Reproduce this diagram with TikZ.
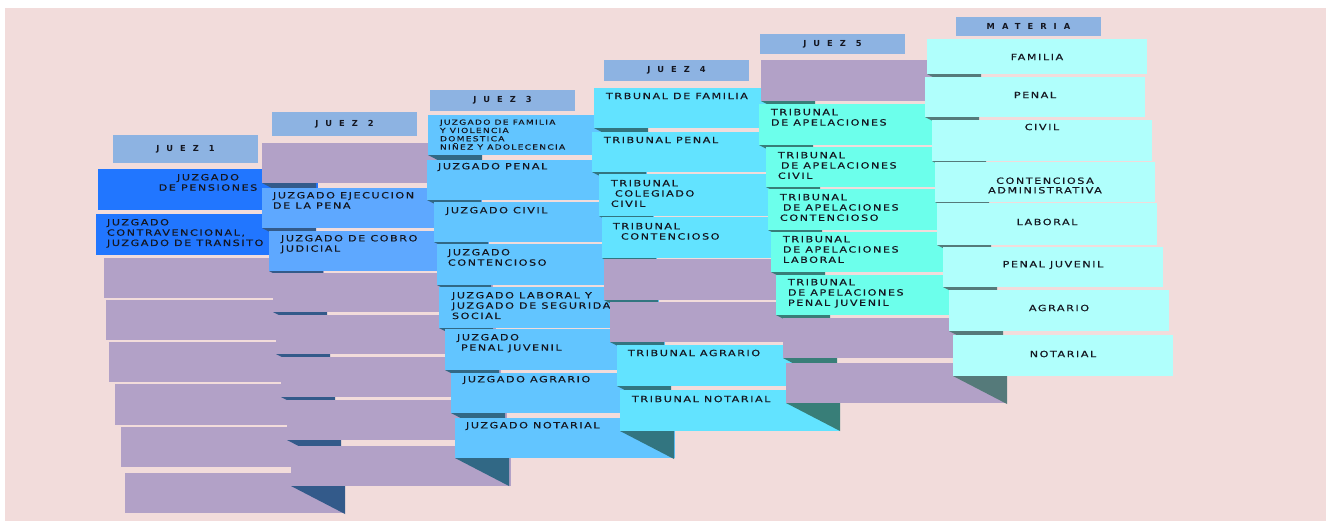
\documentclass[tikz,border=0pt]{standalone}
\usepackage{fontspec}
\newfontfamily\lblfont[FakeStretch=1.3,LetterSpace=18,FakeBold=0.4]{DejaVu Sans}
\newfontfamily\hdrfont[LetterSpace=85]{DejaVu Sans}
\definecolor{bgpink}{RGB}{242,220,219}
\definecolor{hdrc}{RGB}{141,179,226}
\definecolor{lav}{RGB}{178,161,199}
\definecolor{txtc}{RGB}{20,22,32}
\definecolor{c1}{RGB}{33,118,255}
\definecolor{c2}{RGB}{94,168,255}\definecolor{f2}{RGB}{51,90,138}
\definecolor{c3}{RGB}{98,197,255}\definecolor{f3}{RGB}{49,104,133}
\definecolor{c4}{RGB}{98,227,255}\definecolor{f4}{RGB}{50,117,128}
\definecolor{c5}{RGB}{108,255,235}\definecolor{f5}{RGB}{56,126,120}
\definecolor{c6}{RGB}{176,255,252}\definecolor{f6}{RGB}{85,122,122}
\tikzset{
  boxst/.style={inner sep=0pt, outer sep=0pt, minimum width=220pt, draw=none, anchor=north west},
  hd/.style={fill=hdrc, inner sep=0pt, outer sep=0pt, minimum width=145pt, anchor=north west,
    font=\hdrfont\bfseries\fontsize{8.3}{9}\selectfont, text=txtc},
  txt/.style={inner sep=0pt, outer sep=0pt, font=\lblfont\fontsize{8.6}{10.3}\selectfont, text=txtc, align=left},
  txs/.style={inner sep=0pt, outer sep=0pt, font=\lblfont\fontsize{7}{8.3}\selectfont, text=txtc, align=left},
  txc/.style={inner sep=0pt, outer sep=0pt, font=\lblfont\fontsize{8.6}{9.5}\selectfont, text=txtc, align=center}
}
% box with fold: name, x, y, h, fill, fold colour
\newcommand\bx[6]{%
  \fill[#6] (#2,{#3+#4}) -- ++(54,0) -- ++(0,28) -- cycle;
  \node[boxst, fill=#5, minimum height=#4pt] (#1) at (#2,#3) {};}
% box without fold
\newcommand\bxn[5]{%
  \node[boxst, fill=#5, minimum height=#4pt] (#1) at (#2,#3) {};}
\begin{document}
\begin{tikzpicture}[x=1pt,y=-1pt]
\useasboundingbox (0,0) rectangle (1331,522);
\fill[white] (0,0) rectangle (1331,522);
\fill[bgpink] (5,8) rectangle (1326,521);

% ---------- column 1 ----------
\node[hd, minimum height=28pt] (h1) at (113,135) {JUEZ 1};
\bxn{b11}{98}{169}{41}{c1}
\node[txt, align=center, anchor=north] (t11) at (208,174) {JUZGADO\\DE PENSIONES};
\bxn{b12}{96}{214}{41}{c1}
\node[txt, anchor=north west] (t12) at (107,219) {JUZGADO\\CONTRAVENCIONAL,\\JUZGADO DE TRANSITO};
\bxn{b13}{104}{258}{40}{lav}
\bxn{b14}{106}{300}{40}{lav}
\bxn{b15}{109}{342}{40}{lav}
\bxn{b16}{115}{384}{41}{lav}
\bxn{b17}{121}{427}{40}{lav}
\bxn{b18}{125}{473}{40}{lav}

% ---------- column 2 ----------
\node[hd, minimum height=24pt] (h2) at (272,112) {JUEZ 2};
\bx{b21}{262}{143}{40}{lav}{f2}
\bx{b22}{262}{188}{40}{c2}{f2}
\node[txt, anchor=north west] (t22) at (273,192) {JUZGADO EJECUCION\\DE LA PENA};
\bx{b23}{269}{231}{40}{c2}{f2}
\node[txt, anchor=north west] (t23) at (281,235) {JUZGADO DE COBRO\\JUDICIAL};
\bx{b24}{273}{273}{39}{lav}{f2}
\bx{b25}{276}{315}{39}{lav}{f2}
\bx{b26}{281}{357}{40}{lav}{f2}
\bx{b27}{287}{400}{40}{lav}{f2}
\bx{b28}{291}{446}{40}{lav}{f2}

% ---------- column 3 ----------
\node[hd, minimum height=21pt] (h3) at (430,90) {JUEZ 3};
\bx{b31}{428}{115}{40}{c3}{f3}
\node[txs, anchor=north west] (t31) at (440,119.5) {JUZGADO DE FAMILIA\\Y VIOLENCIA\\DOMESTICA\\NIÑEZ Y ADOLECENCIA};
\bx{b32}{427}{160}{40}{c3}{f3}
\node[txt, anchor=west] (t32) at (438,167) {JUZGADO PENAL};
\bx{b33}{434}{202}{40}{c3}{f3}
\node[txt, anchor=west] (t33) at (446,211) {JUZGADO CIVIL};
\bx{b34}{437}{244}{41}{c3}{f3}
\node[txt, anchor=north west] (t34) at (448,249) {JUZGADO\\CONTENCIOSO};
\bx{b35}{439}{287}{41}{c3}{f3}
\node[txt, anchor=north west] (t35) at (452,292) {JUZGADO LABORAL Y\\JUZGADO DE SEGURIDAD\\SOCIAL};
\bx{b36}{445}{329}{41}{c3}{f3}
\node[txt, anchor=north west] (t36) at (457,334) {JUZGADO\\\hspace*{4pt}PENAL JUVENIL};
\bx{b37}{451}{373}{40}{c3}{f3}
\node[txt, anchor=west] (t37) at (463,380) {JUZGADO AGRARIO};
\bx{b38}{455}{418}{40}{c3}{f3}
\node[txt, anchor=west] (t38) at (466,426) {JUZGADO NOTARIAL};

% ---------- column 4 ----------
\node[hd, minimum height=21pt] (h4) at (604,60) {JUEZ 4};
\bx{b41}{594}{88}{40}{c4}{f4}
\node[txt, anchor=west] (t41) at (606,96) {TRBUNAL DE FAMILIA};
\bx{b42}{592}{132}{40}{c4}{f4}
\node[txt, anchor=west] (t42) at (604,140) {TRIBUNAL PENAL};
\bx{b43}{599}{174}{42}{c4}{f4}
\node[txt, anchor=north west] (t43) at (611,180) {TRIBUNAL\\\hspace*{4pt}COLEGIADO\\CIVIL};
\bx{b44}{602}{217}{41}{c4}{f4}
\node[txt, anchor=north west] (t44) at (613,223) {TRIBUNAL\\\hspace*{8pt}CONTENCIOSO};
\bx{b45}{604}{259}{41}{lav}{f4}
\bx{b46}{610}{302}{40}{lav}{f4}
\bx{b47}{617}{345}{41}{c4}{f4}
\node[txt, anchor=west] (t47) at (628,353) {TRIBUNAL AGRARIO};
\bx{b48}{620}{390}{41}{c4}{f4}
\node[txt, anchor=west] (t48) at (632,399) {TRIBUNAL NOTARIAL};

% ---------- column 5 ----------
\node[hd, minimum height=20pt] (h5) at (760,34) {JUEZ 5};
\bx{b51}{761}{60}{41}{lav}{f5}
\bx{b52}{759}{104}{41}{c5}{f5}
\node[txt, anchor=north west] (t52) at (771,109) {TRIBUNAL\\DE APELACIONES};
\bx{b53}{766}{147}{40}{c5}{f5}
\node[txt, anchor=north west] (t53) at (778,152) {TRIBUNAL\\\hspace*{3pt}DE APELACIONES\\CIVIL};
\bx{b54}{768}{189}{41}{c5}{f5}
\node[txt, anchor=north west] (t54) at (780,194) {TRIBUNAL\\\hspace*{3pt}DE APELACIONES\\CONTENCIOSO};
\bx{b55}{771}{232}{40}{c5}{f5}
\node[txt, anchor=north west] (t55) at (783,236) {TRIBUNAL\\DE APELACIONES\\LABORAL};
\bx{b56}{776}{275}{40}{c5}{f5}
\node[txt, anchor=north west] (t56) at (788,279) {TRIBUNAL\\DE APELACIONES\\PENAL JUVENIL};
\bx{b57}{783}{318}{40}{lav}{f5}
\bx{b58}{786}{363}{40}{lav}{f5}

% ---------- column 6 ----------
\node[hd, minimum height=19pt] (h6) at (956,17) {MATERIA};
\bx{b61}{927}{39}{35}{c6}{f6}
\node[txc] (t61) at (1037,57) {FAMILIA};
\bx{b62}{925}{77}{40}{c6}{f6}
\node[txc] (t62) at (1035,95) {PENAL};
\bx{b63}{932}{120}{41}{c6}{f6}
\node[txc] (t63) at (1042,127) {CIVIL};
\bx{b64}{935}{162}{40}{c6}{f6}
\node[txc] (t64) at (1045,185.5) {CONTENCIOSA\\ADMINISTRATIVA};
\bx{b65}{937}{203}{42}{c6}{f6}
\node[txc] (t65) at (1047,222) {LABORAL};
\bx{b66}{943}{247}{40}{c6}{f6}
\node[txc] (t66) at (1053,265) {PENAL JUVENIL};
\bx{b67}{949}{290}{41}{c6}{f6}
\node[txc] (t67) at (1059,308) {AGRARIO};
\bx{b68}{953}{335}{41}{c6}{f6}
\node[txc] (t68) at (1063,354) {NOTARIAL};
\end{tikzpicture}
\end{document}
